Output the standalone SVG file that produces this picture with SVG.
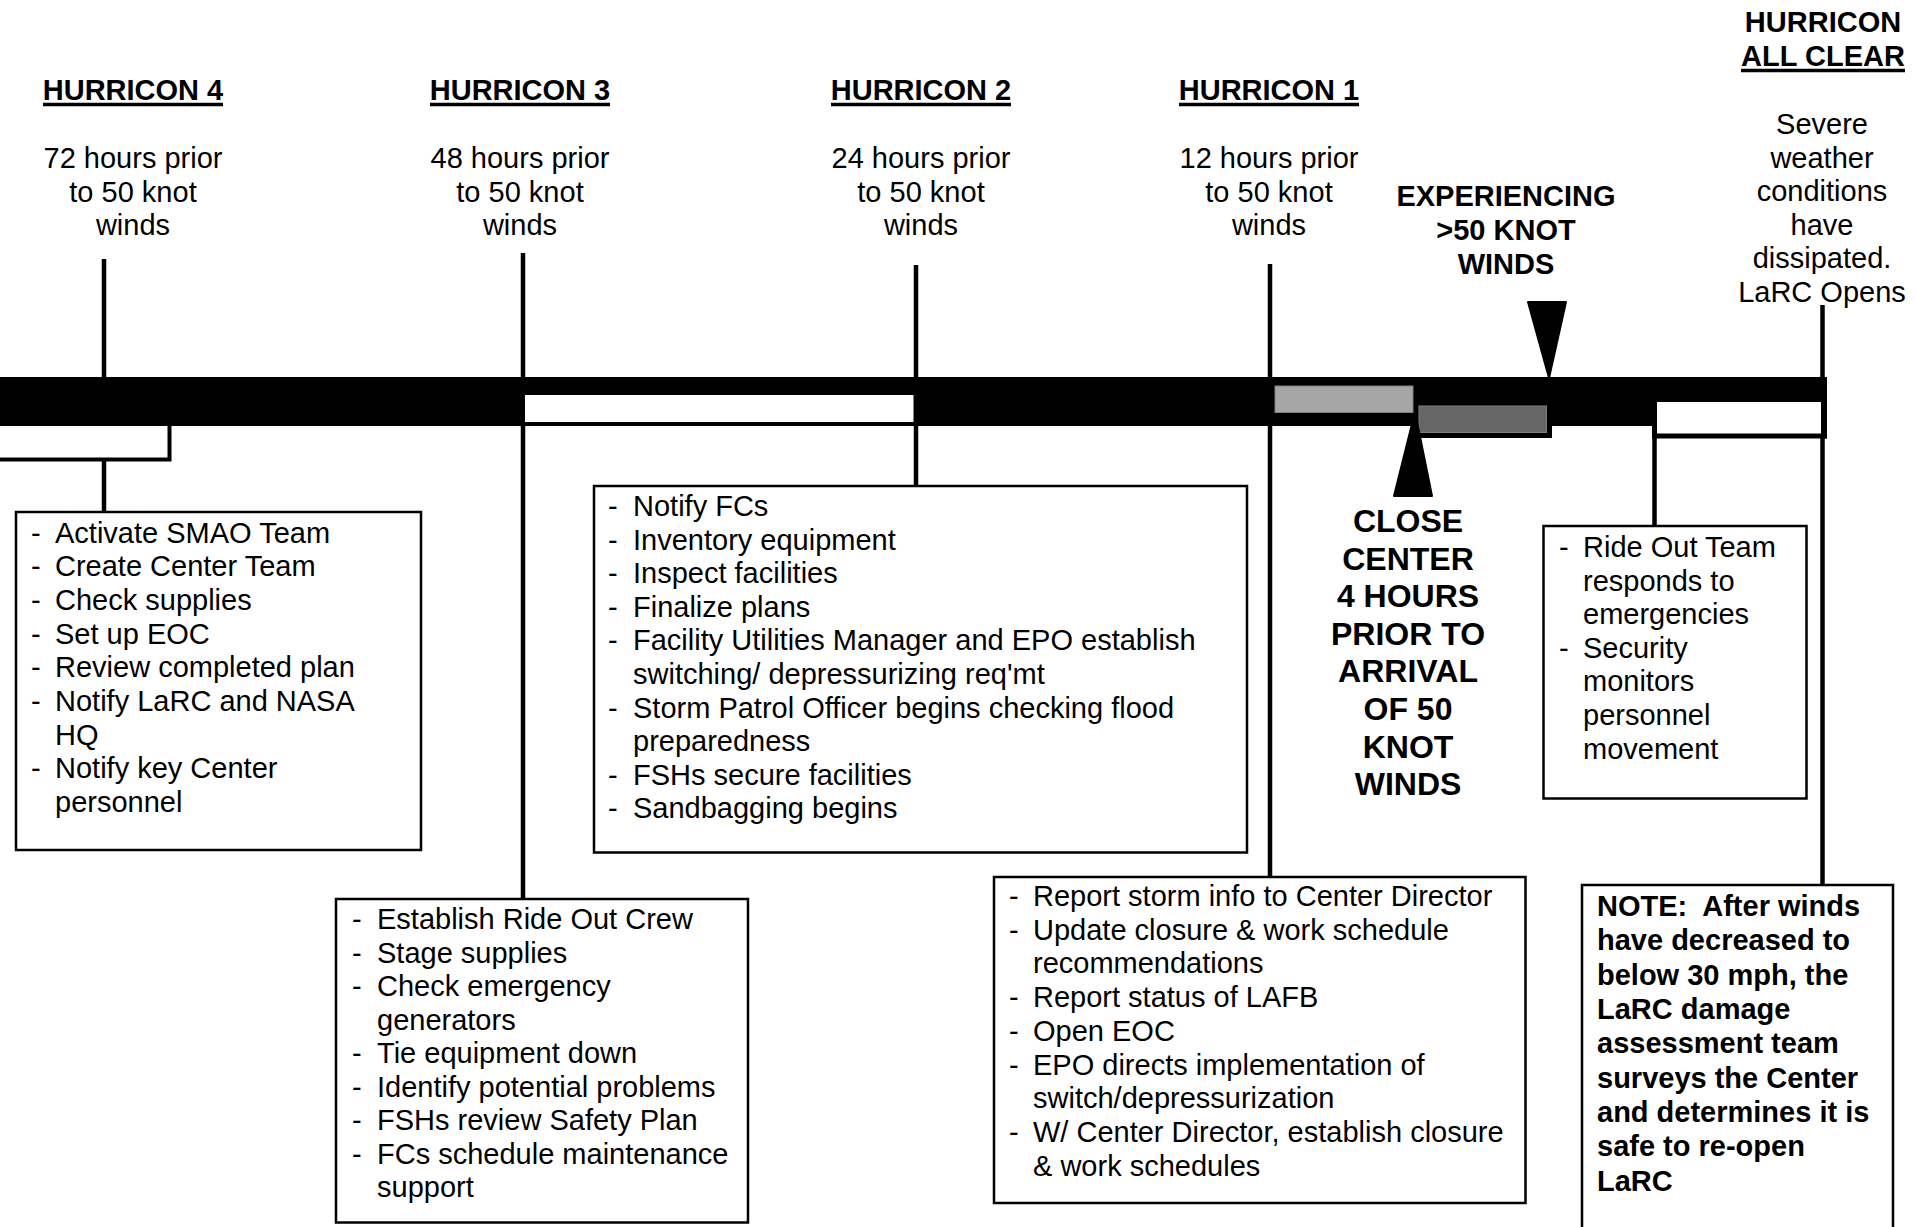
<svg xmlns="http://www.w3.org/2000/svg" width="1915" height="1227" viewBox="0 0 1915 1227">
<style>
.t{font-family:"Liberation Sans",Arial,Helvetica,sans-serif;font-size:29px;fill:#000}
.b{font-weight:bold}
.c{text-anchor:middle}
.big{font-size:32px}
.ul{stroke:#000;stroke-width:3.5}
.box{fill:#fff;stroke:#000;stroke-width:2.5}
.conn{stroke:#000;stroke-width:4.5;fill:none}
</style>
<rect width="1915" height="1227" fill="#fff"/>

<g id="connectors">
  <line class="conn" x1="104" y1="259" x2="104" y2="512"/>
  <line class="conn" x1="523" y1="253" x2="523" y2="900"/>
  <line class="conn" x1="916" y1="265" x2="916" y2="486"/>
  <line class="conn" x1="1270" y1="264" x2="1270" y2="877"/>
  <line class="conn" x1="1654.5" y1="426" x2="1654.5" y2="526"/>
  <line class="conn" x1="1822.5" y1="305" x2="1822.5" y2="885"/>
</g>

<g id="timeline">
  <rect x="0" y="377" width="1825" height="49" fill="#000"/>
  <rect x="0" y="426" width="171.5" height="35.5" fill="#000"/>
  <rect x="0" y="426" width="167.5" height="31.5" fill="#fff"/>
  <rect x="525" y="395" width="388.5" height="27" fill="#fff"/>
  <rect x="1275" y="386" width="138" height="26.5" fill="#a6a6a6" stroke="#808080" stroke-width="1"/>
  <rect x="1413" y="426" width="139" height="12" fill="#000"/>
  <rect x="1419" y="406" width="127.5" height="26.5" fill="#666666" stroke="#808080" stroke-width="1"/>
  <rect x="1652" y="426" width="175" height="12.5" fill="#000"/>
  <rect x="1652" y="398" width="4" height="40" fill="#000"/>
  <rect x="1657" y="402" width="164" height="31.5" fill="#fff"/>
  <rect x="1821" y="377" width="6" height="61.5" fill="#000"/>
  <polygon points="1528,302 1566,302 1549,378" fill="#000" stroke="#000" stroke-width="2" stroke-linejoin="round"/>
  <polygon points="1415,412 1432,496 1394,496" fill="#000" stroke="#000" stroke-width="2" stroke-linejoin="round"/>
</g>

<g id="hurricon4">
  <text class="t b c" x="133" y="100">HURRICON 4</text>
  <line class="ul" x1="43" y1="104.5" x2="223" y2="104.5"/>
  <text class="t c"><tspan x="133" y="168">72 hours prior</tspan><tspan x="133" y="201.5">to 50 knot</tspan><tspan x="133" y="235">winds</tspan></text>
</g>
<g id="hurricon3">
  <text class="t b c" x="520" y="100">HURRICON 3</text>
  <line class="ul" x1="430" y1="104.5" x2="610" y2="104.5"/>
  <text class="t c"><tspan x="520" y="168">48 hours prior</tspan><tspan x="520" y="201.5">to 50 knot</tspan><tspan x="520" y="235">winds</tspan></text>
</g>
<g id="hurricon2">
  <text class="t b c" x="921" y="100">HURRICON 2</text>
  <line class="ul" x1="831" y1="104.5" x2="1011" y2="104.5"/>
  <text class="t c"><tspan x="921" y="168">24 hours prior</tspan><tspan x="921" y="201.5">to 50 knot</tspan><tspan x="921" y="235">winds</tspan></text>
</g>
<g id="hurricon1">
  <text class="t b c" x="1269" y="100">HURRICON 1</text>
  <line class="ul" x1="1179" y1="104.5" x2="1359" y2="104.5"/>
  <text class="t c"><tspan x="1269" y="168">12 hours prior</tspan><tspan x="1269" y="201.5">to 50 knot</tspan><tspan x="1269" y="235">winds</tspan></text>
</g>
<g id="experiencing">
  <text class="t b c"><tspan x="1506" y="206">EXPERIENCING</tspan><tspan x="1506" y="240">&gt;50 KNOT</tspan><tspan x="1506" y="274">WINDS</tspan></text>
</g>
<g id="allclear">
  <text class="t b c" x="1823" y="32">HURRICON</text>
  <text class="t b c" x="1823" y="66">ALL CLEAR</text>
  <line class="ul" x1="1741" y1="70.5" x2="1905" y2="70.5"/>
  <text class="t c"><tspan x="1822" y="134">Severe</tspan><tspan x="1822" y="167.5">weather</tspan><tspan x="1822" y="201">conditions</tspan><tspan x="1822" y="234.5">have</tspan><tspan x="1822" y="268">dissipated.</tspan><tspan x="1822" y="301.5">LaRC Opens</tspan></text>
</g>
<g id="close-center">
  <text class="t b c big"><tspan x="1408" y="532">CLOSE</tspan><tspan x="1408" y="569.6">CENTER</tspan><tspan x="1408" y="607.2">4 HOURS</tspan><tspan x="1408" y="644.8">PRIOR TO</tspan><tspan x="1408" y="682.4">ARRIVAL</tspan><tspan x="1408" y="720">OF 50</tspan><tspan x="1408" y="757.6">KNOT</tspan><tspan x="1408" y="795.2">WINDS</tspan></text>
</g>

<g id="box-hurricon4">
  <rect class="box" x="16" y="512" width="405" height="338"/>
  <text class="t">
    <tspan x="31" y="542.5">-</tspan><tspan x="55" y="542.5">Activate SMAO Team</tspan>
    <tspan x="31" y="576.2">-</tspan><tspan x="55" y="576.2">Create Center Team</tspan>
    <tspan x="31" y="609.9">-</tspan><tspan x="55" y="609.9">Check supplies</tspan>
    <tspan x="31" y="643.6">-</tspan><tspan x="55" y="643.6">Set up EOC</tspan>
    <tspan x="31" y="677.3">-</tspan><tspan x="55" y="677.3">Review completed plan</tspan>
    <tspan x="31" y="711">-</tspan><tspan x="55" y="711">Notify LaRC and NASA</tspan>
    <tspan x="55" y="744.7">HQ</tspan>
    <tspan x="31" y="778.4">-</tspan><tspan x="55" y="778.4">Notify key Center</tspan>
    <tspan x="55" y="812.1">personnel</tspan>
  </text>
</g>

<g id="box-hurricon2">
  <rect class="box" x="594" y="486" width="653" height="366.5"/>
  <text class="t">
    <tspan x="608" y="516">-</tspan><tspan x="633" y="516">Notify FCs</tspan>
    <tspan x="608" y="549.6">-</tspan><tspan x="633" y="549.6">Inventory equipment</tspan>
    <tspan x="608" y="583.2">-</tspan><tspan x="633" y="583.2">Inspect facilities</tspan>
    <tspan x="608" y="616.8">-</tspan><tspan x="633" y="616.8">Finalize plans</tspan>
    <tspan x="608" y="650.4">-</tspan><tspan x="633" y="650.4">Facility Utilities Manager and EPO establish</tspan>
    <tspan x="633" y="684">switching/ depressurizing req'mt</tspan>
    <tspan x="608" y="717.6">-</tspan><tspan x="633" y="717.6">Storm Patrol Officer begins checking flood</tspan>
    <tspan x="633" y="751.2">preparedness</tspan>
    <tspan x="608" y="784.8">-</tspan><tspan x="633" y="784.8">FSHs secure facilities</tspan>
    <tspan x="608" y="818.4">-</tspan><tspan x="633" y="818.4">Sandbagging begins</tspan>
  </text>
</g>

<g id="box-hurricon3">
  <rect class="box" x="336" y="899" width="412" height="323.5"/>
  <text class="t">
    <tspan x="352" y="929">-</tspan><tspan x="377" y="929">Establish Ride Out Crew</tspan>
    <tspan x="352" y="962.5">-</tspan><tspan x="377" y="962.5">Stage supplies</tspan>
    <tspan x="352" y="996">-</tspan><tspan x="377" y="996">Check emergency</tspan>
    <tspan x="377" y="1029.5">generators</tspan>
    <tspan x="352" y="1063">-</tspan><tspan x="377" y="1063">Tie equipment down</tspan>
    <tspan x="352" y="1096.5">-</tspan><tspan x="377" y="1096.5">Identify potential problems</tspan>
    <tspan x="352" y="1130">-</tspan><tspan x="377" y="1130">FSHs review Safety Plan</tspan>
    <tspan x="352" y="1163.5">-</tspan><tspan x="377" y="1163.5">FCs schedule maintenance</tspan>
    <tspan x="377" y="1197">support</tspan>
  </text>
</g>

<g id="box-hurricon1">
  <rect class="box" x="994" y="877" width="531.5" height="326"/>
  <text class="t">
    <tspan x="1009" y="906">-</tspan><tspan x="1033" y="906">Report storm info to Center Director</tspan>
    <tspan x="1009" y="939.7">-</tspan><tspan x="1033" y="939.7">Update closure &amp; work schedule</tspan>
    <tspan x="1033" y="973.4">recommendations</tspan>
    <tspan x="1009" y="1007.1">-</tspan><tspan x="1033" y="1007.1">Report status of LAFB</tspan>
    <tspan x="1009" y="1040.8">-</tspan><tspan x="1033" y="1040.8">Open EOC</tspan>
    <tspan x="1009" y="1074.5">-</tspan><tspan x="1033" y="1074.5">EPO directs implementation of</tspan>
    <tspan x="1033" y="1108.2">switch/depressurization</tspan>
    <tspan x="1009" y="1141.9">-</tspan><tspan x="1033" y="1141.9">W/ Center Director, establish closure</tspan>
    <tspan x="1033" y="1175.6">&amp; work schedules</tspan>
  </text>
</g>

<g id="box-rideout">
  <rect class="box" x="1543.5" y="526" width="263" height="272.5"/>
  <text class="t">
    <tspan x="1559" y="557">-</tspan><tspan x="1583" y="557">Ride Out Team</tspan>
    <tspan x="1583" y="590.6">responds to</tspan>
    <tspan x="1583" y="624.2">emergencies</tspan>
    <tspan x="1559" y="657.8">-</tspan><tspan x="1583" y="657.8">Security</tspan>
    <tspan x="1583" y="691.4">monitors</tspan>
    <tspan x="1583" y="725">personnel</tspan>
    <tspan x="1583" y="758.6">movement</tspan>
  </text>
</g>

<g id="box-note">
  <rect class="box" x="1582" y="885" width="311" height="360"/>
  <text class="t b">
    <tspan x="1597" y="916">NOTE:&#160; After winds</tspan>
    <tspan x="1597" y="950.3">have decreased to</tspan>
    <tspan x="1597" y="984.7">below 30 mph, the</tspan>
    <tspan x="1597" y="1019">LaRC damage</tspan>
    <tspan x="1597" y="1053.4">assessment team</tspan>
    <tspan x="1597" y="1087.7">surveys the Center</tspan>
    <tspan x="1597" y="1122.1">and determines it is</tspan>
    <tspan x="1597" y="1156.4">safe to re-open</tspan>
    <tspan x="1597" y="1190.8">LaRC</tspan>
  </text>
</g>
</svg>
